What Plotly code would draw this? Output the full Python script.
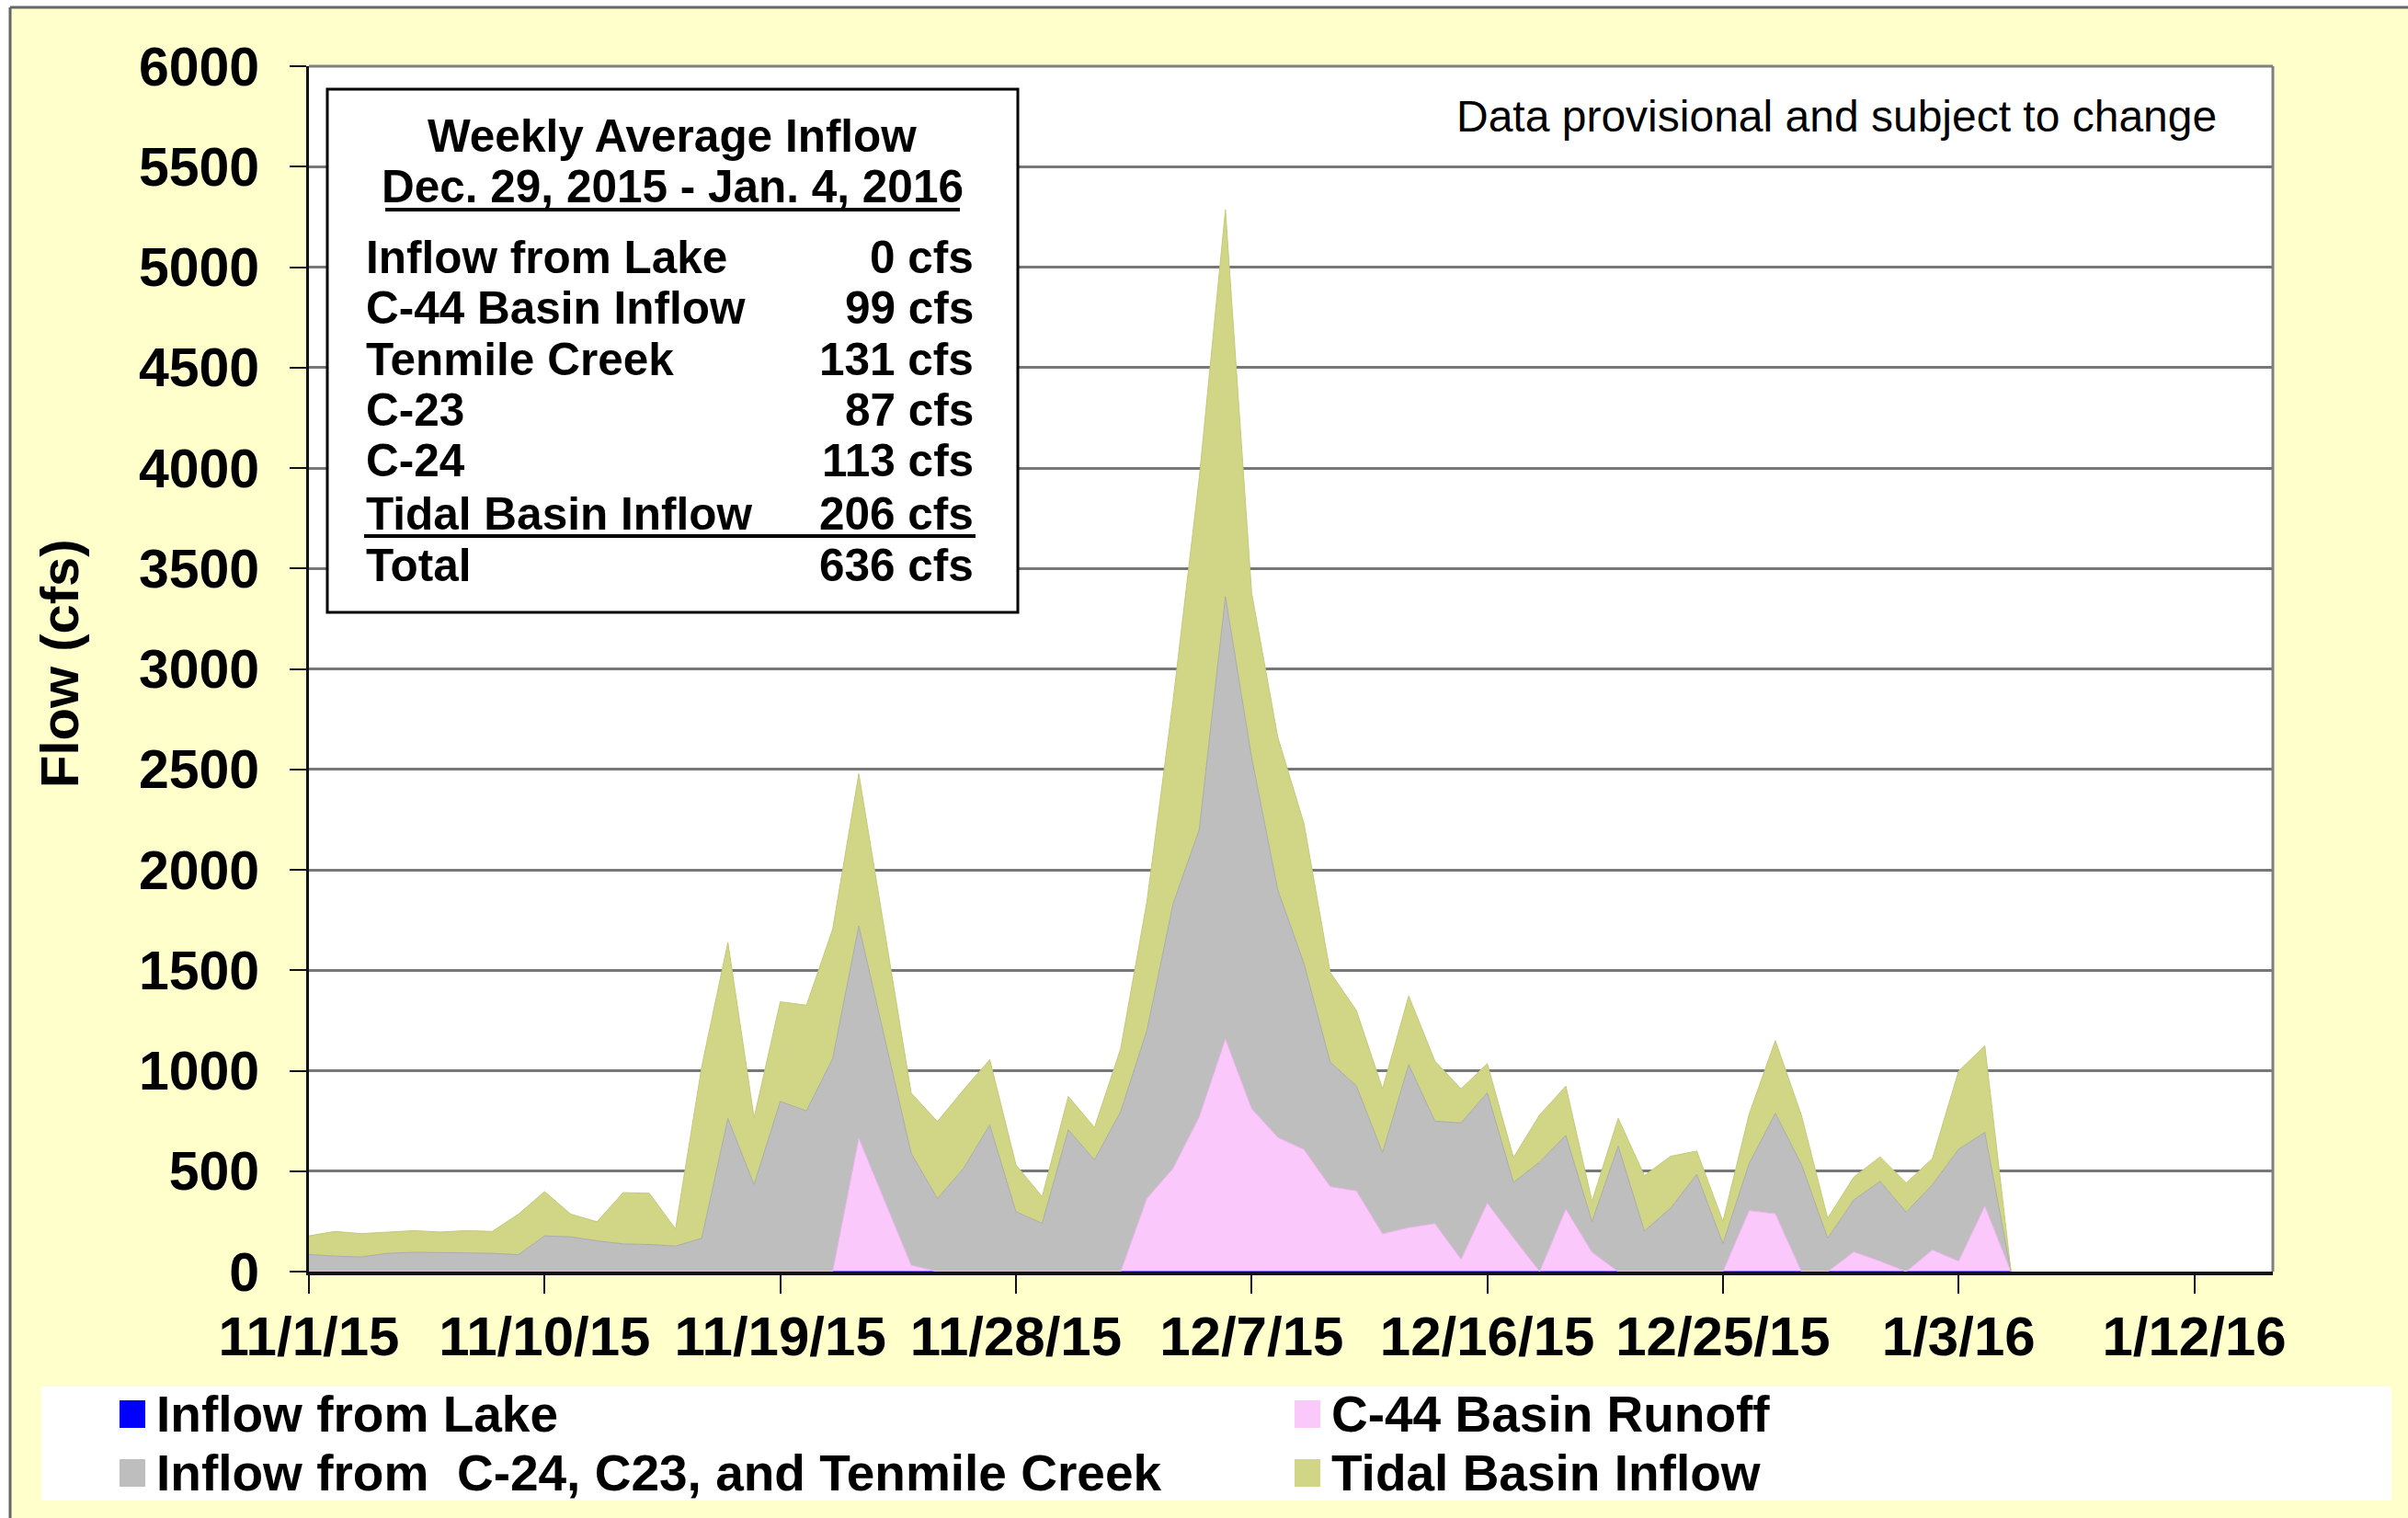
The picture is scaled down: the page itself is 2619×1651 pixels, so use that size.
import pandas as pd
import plotly.graph_objects as go

# ---------------- data (daily flow, cfs) ----------------
START_DATE = "2015-11-01"
LAKE_INFLOW = [0, 0, 0, 0, 0, 0, 0, 0, 0, 0,
               0, 0, 0, 0, 0, 0, 0, 0, 0, 0,
               0, 0, 0, 0, 0, 0, 0, 0, 0, 0,
               0, 0, 0, 0, 0, 0, 0, 0, 0, 0,
               0, 0, 0, 0, 0, 0, 0, 0, 0, 0,
               0, 0, 0, 0, 0, 0, 0, 0, 0, 0,
               0, 0, 0, 0, 0, 0]
C44_RUNOFF = [0, 0, 0, 0, 0, 0, 0, 0, 0, 0,
              0, 0, 0, 0, 0, 0, 0, 0, 0, 0,
              0, 664, 350, 32, 0, 0, 0, 0, 0, 0,
              0, 0, 364, 514, 770, 1158, 811, 668, 607, 423,
              402, 188, 219, 239, 61, 341, 168, 0, 311, 96,
              0, 0, 0, 0, 0, 304, 288, 0, 0, 98,
              52, 0, 108, 52, 326, 0]
C24_C23_TENMILE = [85, 77, 73, 91, 96, 93, 93, 91, 84, 178,
                   173, 153, 138, 135, 127, 166, 762, 433, 847, 800,
                   1060, 1057, 800, 557, 364, 514, 730, 298, 240, 706,
                   556, 797, 836, 1316, 1430, 2202, 1749, 1232, 926, 620,
                   523, 404, 811, 510, 679, 550, 276, 545, 367, 153,
                   625, 202, 316, 484, 139, 234, 500, 533, 166, 259,
                   397, 296, 325, 557, 367, 0]
TIDAL_BASIN = [93, 123, 116, 106, 108, 104, 111, 109, 202, 220,
               113, 95, 255, 255, 85, 854, 877, 333, 496, 526,
               644, 757, 530, 300, 383, 391, 325, 233, 133, 166,
               161, 313, 640, 1010, 1750, 1925, 820, 760, 697, 447,
               375, 318, 342, 299, 170, 144, 124, 235, 245, 101,
               138, 276, 258, 116, 111, 246, 362, 244, 99, 114,
               122, 145, 130, 389, 431, 0]

X_TICK_LABELS = ["11/1/15", "11/10/15", "11/19/15", "11/28/15", "12/7/15",
                 "12/16/15", "12/25/15", "1/3/16", "1/12/16"]
X_RANGE = ["2015-11-01", "2016-01-15"]
Y_TICKS = [0, 500, 1000, 1500, 2000, 2500, 3000, 3500, 4000, 4500, 5000, 5500, 6000]

SERIES_NAMES = ["Inflow from Lake", "C-44 Basin Runoff",
                "Inflow from \u00a0C-24, C23, and Tenmile Creek", "Tidal Basin Inflow"]

BOX_TITLE = "Weekly Average Inflow"
BOX_PERIOD = "Dec. 29, 2015 - Jan. 4, 2016"
BOX_ROWS = ["Inflow from Lake", "C-44 Basin Inflow", "Tenmile Creek", "C-23", "C-24",
            "Tidal Basin Inflow", "Total"]
BOX_VALUES = ["0 cfs", "99 cfs", "131 cfs", "87 cfs", "113 cfs", "206 cfs", "636 cfs"]
NOTE = "Data provisional and subject to change"

# ---------------- styling ----------------
COLORS = ["#0000FF", "#FBC8FB", "#BEBEBE", "#D0D685"]
EDGE = ["#0000FF", "#E8B4E8", "#ABABAB", "#C4CA78"]
FONT = "Liberation Sans, Arial, sans-serif"
BG_YELLOW = "#FFFFCC"

W, H = 2619, 1651
L, R, T, B = 336, 2472, 72, 1383


def fx(px):
    return (px - L) / (R - L)


def fy(py):
    return (B - py) / (B - T)


dates = pd.date_range(START_DATE, periods=len(TIDAL_BASIN), freq="D")

fig = go.Figure()
for name, vals, col, edge in zip(SERIES_NAMES,
                                 [LAKE_INFLOW, C44_RUNOFF, C24_C23_TENMILE, TIDAL_BASIN],
                                 COLORS, EDGE):
    fig.add_trace(go.Scatter(
        x=dates, y=vals, name=name, mode="lines", stackgroup="one",
        line=dict(width=1, color=edge), fillcolor=col, showlegend=False,
    ))

tickvals = pd.date_range(X_RANGE[0], periods=len(X_TICK_LABELS), freq="9D")

fig.update_xaxes(
    type="date", range=X_RANGE, tickvals=tickvals, ticktext=X_TICK_LABELS,
    tickangle=0, showgrid=False, zeroline=False,
    showline=True, linecolor="#111111", linewidth=4,
    ticks="outside", ticklen=20, tickwidth=2, tickcolor="#111111",
    tickfont=dict(family=FONT, size=60, color="black", weight="bold"),
    ticklabelstandoff=-5,
)
fig.update_yaxes(
    range=[0, 6000], tickvals=Y_TICKS, showgrid=True, gridcolor="#777777", gridwidth=3,
    zeroline=False, showline=True, linecolor="#111111", linewidth=3,
    ticks="outside", ticklen=18, tickwidth=2, tickcolor="#111111",
    tickfont=dict(family=FONT, size=59, color="black", weight="bold"),
    ticklabelstandoff=21,
)

shapes = []
annotations = []

# white strip outside the yellow panel + panel border (top/left visible)
shapes.append(dict(type="rect", xref="paper", yref="paper", layer="below",
                   x0=fx(-20), x1=fx(11), y0=fy(H + 20), y1=fy(-20),
                   fillcolor="white", line=dict(width=0)))
shapes.append(dict(type="rect", xref="paper", yref="paper", layer="below",
                   x0=fx(-20), x1=fx(W + 20), y0=fy(8), y1=fy(-20),
                   fillcolor="white", line=dict(width=0)))
shapes.append(dict(type="line", xref="paper", yref="paper",
                   x0=fx(11), x1=fx(W + 20), y0=fy(8), y1=fy(8),
                   line=dict(color="#666666", width=3)))
shapes.append(dict(type="line", xref="paper", yref="paper",
                   x0=fx(11), x1=fx(11), y0=fy(8), y1=fy(H + 20),
                   line=dict(color="#666666", width=3)))
# plot frame top/right
shapes.append(dict(type="line", xref="paper", yref="paper", x0=0, x1=1, y0=1, y1=1,
                   line=dict(color="#808080", width=3)))
shapes.append(dict(type="line", xref="paper", yref="paper", x0=1, x1=1, y0=0, y1=1,
                   line=dict(color="#808080", width=3)))

# summary box
shapes.append(dict(type="rect", xref="paper", yref="paper", layer="above",
                   x0=fx(356), x1=fx(1107), y0=fy(666), y1=fy(97),
                   fillcolor="white", line=dict(color="black", width=3)))
BOX_FONT = dict(family=FONT, size=49.5, color="black", weight="bold")
annotations.append(dict(text=BOX_TITLE, xref="paper", yref="paper", x=fx(731), y=fy(147),
                        xanchor="center", yanchor="middle", showarrow=False, font=BOX_FONT))
annotations.append(dict(text=BOX_PERIOD, xref="paper", yref="paper", x=fx(731), y=fy(202),
                        xanchor="center", yanchor="middle", showarrow=False, font=BOX_FONT))
shapes.append(dict(type="line", xref="paper", yref="paper", x0=fx(419), x1=fx(1044),
                   y0=fy(228), y1=fy(228), line=dict(color="black", width=4)))
row_y = [279, 334, 390, 446, 501, 558, 614]
for lab, val, yy in zip(BOX_ROWS, BOX_VALUES, row_y):
    annotations.append(dict(text=lab, xref="paper", yref="paper", x=fx(396), y=fy(yy),
                            xanchor="left", yanchor="middle", showarrow=False, font=BOX_FONT))
    annotations.append(dict(text=val, xref="paper", yref="paper", x=fx(1061), y=fy(yy),
                            xanchor="right", yanchor="middle", showarrow=False, font=BOX_FONT))
shapes.append(dict(type="line", xref="paper", yref="paper", x0=fx(396), x1=fx(1061),
                   y0=fy(583), y1=fy(583), line=dict(color="black", width=4)))

# note
annotations.append(dict(text=NOTE, xref="paper", yref="paper", x=fx(2413), y=fy(127),
                        xanchor="right", yanchor="middle", showarrow=False,
                        font=dict(family=FONT, size=48, color="black")))

# y-axis title
annotations.append(dict(text="Flow (cfs)", xref="paper", yref="paper", x=fx(64), y=fy(722),
                        xanchor="center", yanchor="middle", showarrow=False, textangle=-90,
                        font=dict(family=FONT, size=58, color="black", weight="bold")))

# custom legend
shapes.append(dict(type="rect", xref="paper", yref="paper", layer="above",
                   x0=fx(45), x1=fx(2601), y0=fy(1632), y1=fy(1508),
                   fillcolor="white", line=dict(width=0)))
leg_pos = [(130, 1538), (1408, 1538), (130, 1602), (1408, 1602)]
for (lx, ly), idx in zip(leg_pos, range(4)):
    shapes.append(dict(type="rect", xref="paper", yref="paper", layer="above",
                       x0=fx(lx), x1=fx(lx + 28), y0=fy(ly + 15), y1=fy(ly - 15),
                       fillcolor=COLORS[idx], line=dict(width=0)))
    annotations.append(dict(text=SERIES_NAMES[idx], xref="paper", yref="paper",
                            x=fx(lx + 38), y=fy(ly), xanchor="left", yanchor="middle",
                            showarrow=False,
                            font=dict(family=FONT, size=55, color="black", weight="bold")))

fig.update_layout(
    width=W, height=H, autosize=False,
    margin=dict(l=L, r=W - R, t=T, b=H - B, pad=0),
    paper_bgcolor=BG_YELLOW, plot_bgcolor="white",
    shapes=shapes, annotations=annotations, showlegend=False,
)

fig.write_html("out.html", config={"displayModeBar": False},
               post_script="document.body.style.margin='0px';document.body.style.overflow='hidden';")
